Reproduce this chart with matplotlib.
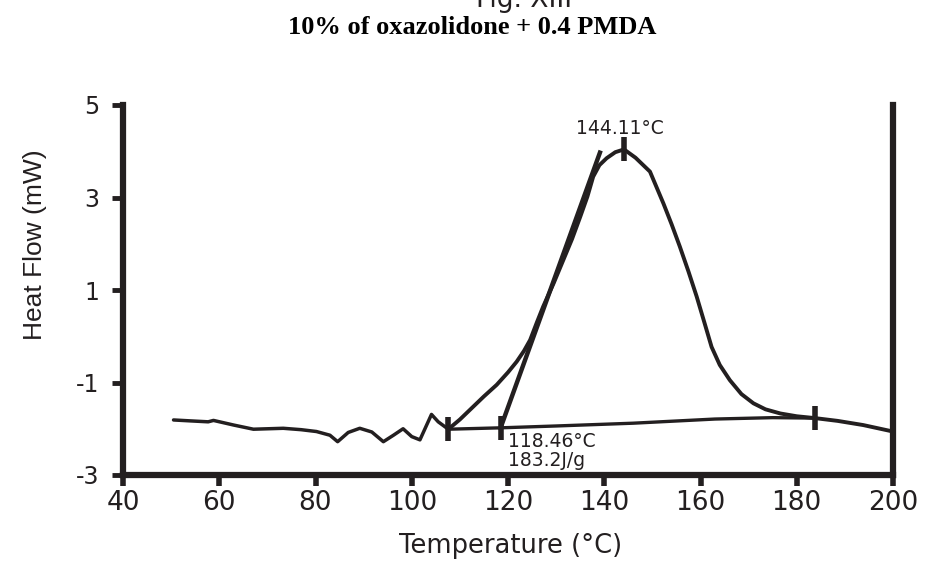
import matplotlib
matplotlib.use("Agg")
import matplotlib.pyplot as plt
from matplotlib import font_manager
import numpy as np

plt.rcParams['font.family'] = ['DejaVu Sans']
names = {f.name for f in font_manager.fontManager.ttflist}
narrow = 'Liberation Sans Narrow' if 'Liberation Sans Narrow' in names else 'Liberation Sans'

# ---- data ----
temp_pre = [50.5, 54.0, 57.7, 58.8, 63.0, 67.1, 73.3, 77.0, 80.2, 83.0, 84.6, 86.8, 89.2, 91.7,
            94.1, 96.2, 98.2, 100.0, 101.7, 104.1, 105.5, 107.6]
flow_pre = [-1.81, -1.83, -1.85, -1.82, -1.92, -2.01, -1.99, -2.02, -2.06, -2.14, -2.28, -2.08, -1.99, -2.07,
            -2.28, -2.14, -2.00, -2.17, -2.24, -1.69, -1.85, -2.01]
temp_peak = [107.6, 110.0, 112.1, 115.0, 117.65, 120.0, 121.8, 123.3, 124.6, 126.0, 127.3, 129.5,
             131.5, 133.3, 135.0, 136.5, 137.7, 139.0, 140.5, 142.3, 144.11, 146.5, 149.5, 152.3,
             154.0, 155.7, 157.5, 159.2, 160.8, 162.3, 164.0, 166.1, 168.5, 171.0, 173.5, 176.6,
             180.0, 183.8, 188.5, 193.8, 200.0]
flow_peak = [-2.01, -1.80, -1.59, -1.30, -1.05, -0.78, -0.55, -0.32, -0.08, 0.30, 0.64, 1.15,
             1.65, 2.10, 2.58, 3.02, 3.45, 3.70, 3.85, 3.98, 4.04, 3.86, 3.56, 2.87,
             2.42, 1.94, 1.40, 0.86, 0.30, -0.23, -0.62, -0.95, -1.25, -1.45, -1.58, -1.67,
             -1.73, -1.77, -1.83, -1.92, -2.06]
temp_base = [107.6, 118.46, 130.0, 146.0, 163.0, 175.0, 183.8]
flow_base = [-2.01, -1.98, -1.94, -1.88, -1.79, -1.76, -1.77]
temp_tangent = [118.46, 139.1]
flow_tangent = [-1.98, 3.97]
marker_temp = [107.6, 118.46, 144.11, 183.8]
marker_flow = [-2.01, -1.98, 4.04, -1.77]

x_ticks = [40, 60, 80, 100, 120, 140, 160, 180, 200]
y_ticks = [-3, -1, 1, 3, 5]

ink = '#231f20'

fig = plt.figure(figsize=(9.35, 5.63), dpi=100)
ax = fig.add_axes([123/935, 1-475/563, (893-123)/935, (475-105)/563])

ax.plot(temp_pre, flow_pre, color=ink, lw=2.5, solid_joinstyle='round', solid_capstyle='round')
ax.plot(temp_peak, flow_peak, color=ink, lw=2.8, solid_joinstyle='round', solid_capstyle='round')
ax.plot(temp_base, flow_base, color=ink, lw=2.4)
ax.plot(temp_tangent, flow_tangent, color=ink, lw=3.2)
ax.plot(marker_temp, marker_flow, ls='none', marker='|', ms=17, mew=4, color=ink)

ax.set_xlim(40, 200)
ax.set_ylim(-3, 5)
ax.set_xticks(x_ticks)
ax.set_yticks(y_ticks)
ax.set_xticklabels([str(v) for v in x_ticks], fontsize=19, color=ink)
ax.set_yticklabels([str(v) for v in y_ticks], fontsize=17, color=ink)
ax.tick_params(axis='x', direction='out', length=8, width=4, color=ink, pad=3)
ax.tick_params(axis='y', direction='out', length=8, width=3.5, color=ink, pad=9)

ax.spines['top'].set_visible(False)
for s in ['left', 'right', 'bottom']:
    ax.spines[s].set_linewidth(4.5)
    ax.spines[s].set_color(ink)

ax.set_xlabel('Temperature (°C)', fontsize=18.5, color=ink)
ax.xaxis.set_label_coords((511-123)/770, (475-533)/370)
ax.set_ylabel('Heat Flow (mW)', fontsize=23 if narrow != 'Liberation Sans' else 19,
              color=ink, family=narrow)
ax.yaxis.set_label_coords((47-123)/770, (475-245)/370)

ax.text(143.3, 4.50, '144.11°C', fontsize=13.5, color=ink, ha='center', va='center')
ax.text(120.0, -2.27, '118.46°C', fontsize=13.5, color=ink, ha='left', va='center')
ax.text(120.0, -2.69, '183.2J/g', fontsize=13.5, color=ink, ha='left', va='center')

fig.text(472/935, 1-28/563, '10% of oxazolidone + 0.4 PMDA', fontsize=19, fontweight='bold',
         family='Liberation Serif', ha='center', va='center', color='black')
fig.text(524/935, 1-7/563, 'Fig. XIII', fontsize=19, ha='center', va='baseline', color=ink)

fig.savefig('out.png', dpi=100)
